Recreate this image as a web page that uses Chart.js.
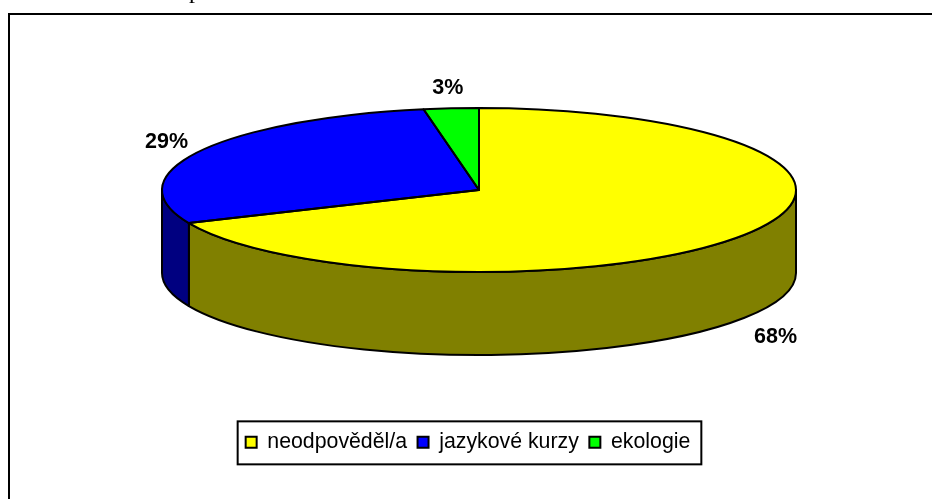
<!DOCTYPE html>
<html lang="cs">
<head>
<meta charset="utf-8">
<style>
html,body{margin:0;padding:0;background:#fff;overflow:hidden}
#wrap{position:absolute;left:0;top:0;width:932px;height:499px}
</style>
<script src="https://cdn.jsdelivr.net/npm/chart.js@4/dist/chart.umd.min.js"></script>
</head>
<body>
<div id="wrap"><canvas id="c" width="932" height="499"></canvas></div>
<script>
const categories = ["neodpověděl/a", "jazykové kurzy", "ekologie"];
const values = [68.4, 28.8, 2.8];
const percentLabels = ["68%", "29%", "3%"];
const topColors = ["#ffff00", "#0000ff", "#00ff00"];
const sideColors = ["#808000", "#000080", "#008000"];

const CX = 479, CY = 190, RX = 317, RY = 82, DEPTH = 83;

function ellipseSector(ctx, a, b) {
  ctx.beginPath();
  ctx.moveTo(CX, CY);
  ctx.ellipse(CX, CY, RX, RY, 0, a, b);
  ctx.closePath();
}

const pie3d = {
  id: "pie3d",
  beforeDraw(chart) {
    const ctx = chart.ctx;
    ctx.save();
    ctx.strokeStyle = "#000";
    ctx.lineWidth = 2;
    ctx.beginPath();
    ctx.moveTo(9, 499);
    ctx.lineTo(9, 14);
    ctx.lineTo(932, 14);
    ctx.stroke();
    ctx.fillStyle = "#000";
    ctx.font = "24px 'Liberation Serif'";
    ctx.textBaseline = "alphabetic";
    ctx.fillText("p", 189, -2);
    ctx.restore();
  },
  beforeDatasetsDraw(chart) {
    const ctx = chart.ctx;
    const arcs = chart.getDatasetMeta(0).data;
    ctx.save();
    ctx.lineWidth = 2;
    ctx.strokeStyle = "#000";
    ctx.lineJoin = "round";
    arcs.forEach((arc, i) => {
      const a = Math.max(arc.startAngle, 0);
      const b = Math.min(arc.endAngle, Math.PI);
      if (b <= a) return;
      ctx.beginPath();
      ctx.ellipse(CX, CY, RX, RY, 0, a, b);
      ctx.ellipse(CX, CY + DEPTH, RX, RY, 0, b, a, true);
      ctx.closePath();
      ctx.fillStyle = sideColors[i];
      ctx.fill();
      ctx.stroke();
    });
    ctx.restore();
    const first = arcs[0];
    ctx.save();
    ctx.translate(CX, CY);
    ctx.scale(RX / first.outerRadius, RY / first.outerRadius);
    ctx.translate(-first.x, -first.y);
  },
  afterDatasetsDraw(chart) {
    const ctx = chart.ctx;
    ctx.restore();
    const arcs = chart.getDatasetMeta(0).data;
    ctx.save();
    ctx.lineWidth = 2;
    ctx.strokeStyle = "#000";
    ctx.lineJoin = "round";
    arcs.forEach(arc => {
      ellipseSector(ctx, arc.startAngle, arc.endAngle);
      ctx.stroke();
    });
    ctx.fillStyle = "#000";
    ctx.font = "bold 21.5px 'Liberation Sans'";
    ctx.textAlign = "center";
    ctx.textBaseline = "middle";
    arcs.forEach((arc, i) => {
      const m = (arc.startAngle + arc.endAngle) / 2;
      const front = Math.sin(m) > 0;
      const x = CX + RX * 1.117 * Math.cos(m);
      const y = CY + RY * (front ? 1.39 : 1.27) * Math.sin(m) + (front ? DEPTH : 0) + 1.5;
      ctx.fillText(percentLabels[i], x, y);
    });
    ctx.restore();
  },
  afterDraw(chart) {
    const ctx = chart.ctx;
    const hits = chart.legend.legendHitBoxes;
    const last = hits[hits.length - 1];
    const left = hits[0].left - 8;
    const right = last.left + last.width + 11;
    const midY = hits[0].top + hits[0].height / 2;
    ctx.save();
    ctx.strokeStyle = "#000";
    ctx.lineWidth = 2;
    ctx.strokeRect(left, midY - 21, right - left, 43);
    ctx.restore();
  }
};

const basePieLabels = Chart.overrides.pie.plugins.legend.labels.generateLabels;

new Chart(document.getElementById("c"), {
  type: "pie",
  data: {
    labels: categories,
    datasets: [{ data: values, backgroundColor: topColors, borderWidth: 0 }]
  },
  plugins: [pie3d],
  options: {
    responsive: false,
    animation: false,
    layout: { padding: { left: 4, bottom: 36 } },
    plugins: {
      tooltip: { enabled: false },
      legend: {
        position: "bottom",
        labels: {
          color: "#000",
          boxWidth: 11,
          boxHeight: 11,
          padding: 10.5,
          font: { family: "'Liberation Sans'", size: 21.3 },
          generateLabels(chart) {
            return basePieLabels(chart).map(l => ({ ...l, lineWidth: 2, strokeStyle: "#000" }));
          }
        }
      }
    }
  }
});
</script>
</body>
</html>
